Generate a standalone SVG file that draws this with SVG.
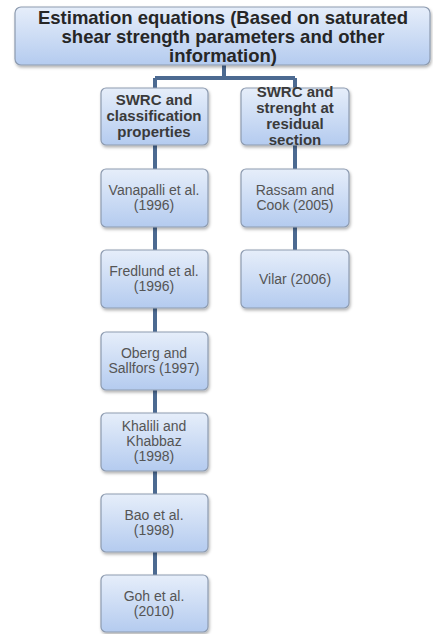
<svg xmlns="http://www.w3.org/2000/svg" width="433" height="634" viewBox="0 0 433 634">
<defs>
<linearGradient id="g" x1="0" y1="0" x2="0" y2="1">
<stop offset="0" stop-color="#e6eefa"/>
<stop offset="1" stop-color="#b4cbef"/>
</linearGradient>
<filter id="sh" x="-10%" y="-10%" width="125%" height="130%">
<feDropShadow dx="1" dy="2" stdDeviation="1.5" flood-color="#000" flood-opacity="0.3"/>
</filter>
<style>
.b{fill:url(#g);stroke:#8d9bb0;stroke-width:1.2;filter:url(#sh)}
.c{stroke:#4c6a91;stroke-width:4;fill:none}
.t{font-family:"Liberation Sans",Arial,sans-serif;font-weight:bold;font-size:18.5px;fill:#262626;text-anchor:middle}
.h{font-family:"Liberation Sans",Arial,sans-serif;font-weight:bold;font-size:15px;fill:#3a3a3a;text-anchor:middle}
.n{font-family:"Liberation Sans",Arial,sans-serif;font-size:14px;fill:#555;text-anchor:middle}
</style>
</defs>
<rect width="433" height="634" fill="#fff"/>
<g id="connectors">
<path class="c" d="M224 65V78M155 78H295M155 78V88M295 78V88"/>
<path class="c" d="M155 145V169M155 227V250M155 308V332M155 390V413M155 471V494M155 552V575"/>
<path class="c" d="M295 145V169M295 227V250"/>
</g>
<g id="root">
<rect class="b" x="15" y="7" width="415" height="58" rx="6"/>
<text class="t" x="223" y="24">Estimation equations (Based on saturated</text>
<text class="t" x="223" y="43">shear strength parameters and other</text>
<text class="t" x="223" y="62">information)</text>
</g>
<g id="swrc-class">
<rect class="b" x="101" y="88" width="107" height="57" rx="5"/>
<text class="h" x="154" y="105">SWRC and</text>
<text class="h" x="154" y="121">classification</text>
<text class="h" x="154" y="137">properties</text>
</g>
<g id="swrc-res">
<rect class="b" x="241" y="88" width="108" height="57" rx="5"/>
<text class="h" x="295" y="97">SWRC and</text>
<text class="h" x="295" y="113">strenght at</text>
<text class="h" x="295" y="129">residual</text>
<text class="h" x="295" y="145">section</text>
</g>
<g id="vanapalli">
<rect class="b" x="101" y="169" width="107" height="58" rx="5"/>
<text class="n" x="154" y="195">Vanapalli et al.</text>
<text class="n" x="154" y="210">(1996)</text>
</g>
<g id="fredlund">
<rect class="b" x="101" y="250" width="107" height="58" rx="5"/>
<text class="n" x="154" y="276">Fredlund et al.</text>
<text class="n" x="154" y="291">(1996)</text>
</g>
<g id="oberg">
<rect class="b" x="101" y="332" width="107" height="58" rx="5"/>
<text class="n" x="154" y="358">Oberg and</text>
<text class="n" x="154" y="373">Sallfors (1997)</text>
</g>
<g id="khalili">
<rect class="b" x="101" y="413" width="107" height="58" rx="5"/>
<text class="n" x="154" y="431">Khalili and</text>
<text class="n" x="154" y="446">Khabbaz</text>
<text class="n" x="154" y="461">(1998)</text>
</g>
<g id="bao">
<rect class="b" x="101" y="494" width="107" height="58" rx="5"/>
<text class="n" x="154" y="520">Bao et al.</text>
<text class="n" x="154" y="535">(1998)</text>
</g>
<g id="goh">
<rect class="b" x="101" y="575" width="107" height="57" rx="5"/>
<text class="n" x="154" y="601">Goh et al.</text>
<text class="n" x="154" y="616">(2010)</text>
</g>
<g id="rassam">
<rect class="b" x="241" y="169" width="108" height="58" rx="5"/>
<text class="n" x="295" y="195">Rassam and</text>
<text class="n" x="295" y="210">Cook (2005)</text>
</g>
<g id="vilar">
<rect class="b" x="241" y="250" width="108" height="58" rx="5"/>
<text class="n" x="295" y="284">Vilar (2006)</text>
</g>
</svg>
